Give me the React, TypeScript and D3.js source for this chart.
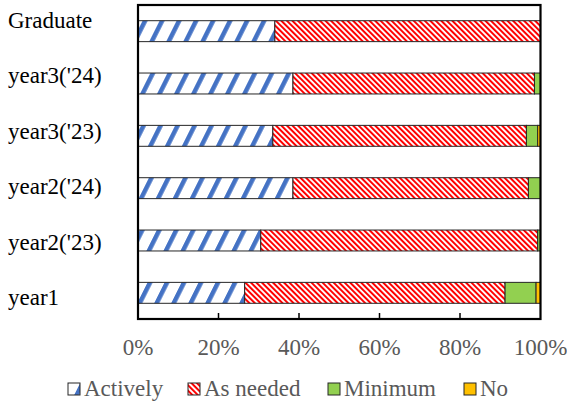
import React from "react";
import * as d3 from "d3";

const categories = ["Graduate", "year3('24)", "year3('23)", "year2('24)", "year2('23)", "year1"];
const seriesNames = ["Actively", "As needed", "Minimum", "No"];
const actively = [34, 38.5, 33.5, 38.5, 30.5, 26.5];
const asNeeded = [66, 60, 63, 58.5, 68.8, 64.7];
const minimum = [0, 1.5, 2.8, 3, 0.7, 7.7];
const no = [0, 0, 0.7, 0, 0, 1.1];
const xTicks = [0, 20, 40, 60, 80, 100];

const W = 567;
const H = 405;
const plot = { left: 138, right: 540.5, top: 5, bottom: 319 };
const fills = ["url(#pActive)", "url(#pNeed)", "#92D050", "#FFC000"];
const SERIF = "serif";

export default function App() {
  const x = d3.scaleLinear().domain([0, 100]).range([plot.left, plot.right]);
  const y = d3
    .scaleBand()
    .domain(categories)
    .range([plot.top, plot.bottom])
    .paddingInner(0.6)
    .paddingOuter(0.3);
  const labelY = d3.scalePoint().domain(categories).range([20, 297]);

  const rows = categories.map((c, i) => ({
    cat: c,
    Actively: actively[i],
    "As needed": asNeeded[i],
    Minimum: minimum[i],
    No: no[i],
  }));
  const stacked = d3.stack().keys(seriesNames)(rows as any);

  const legendX = [68, 188, 328, 464];

  return (
    <svg
      width={W}
      height={H}
      style={{ position: "absolute", left: 0, top: 0, background: "#fff" }}
    >
      <defs>
        <pattern
          id="pActive"
          patternUnits="userSpaceOnUse"
          width={15.2}
          height={10}
          patternTransform="rotate(26.6)"
        >
          <rect width={15.2} height={10} fill="#fff" />
          <rect width={4.5} height={10} fill="#4472C4" />
        </pattern>
        <pattern
          id="pNeed"
          patternUnits="userSpaceOnUse"
          width={3.9}
          height={10}
          patternTransform="rotate(-45)"
        >
          <rect width={3.9} height={10} fill="#fff" />
          <rect width={2} height={10} fill="#FF0000" />
        </pattern>
      </defs>

      {stacked.map((s, si) => (
        <g key={s.key}>
          {s.map((d, i) =>
            d[1] - d[0] > 0 ? (
              <rect
                key={i}
                x={x(d[0])}
                y={y(categories[i])}
                width={x(d[1]) - x(d[0])}
                height={y.bandwidth()}
                fill={fills[si]}
                stroke="#262626"
                strokeWidth={1}
              />
            ) : null
          )}
        </g>
      ))}

      {/* plot frame */}
      <rect
        x={plot.left}
        y={plot.top}
        width={plot.right - plot.left}
        height={plot.bottom - plot.top}
        fill="none"
        stroke="#000"
        strokeWidth={2.2}
      />

      {/* x ticks and labels */}
      {xTicks.map((t) => (
        <g key={t}>
          {t > 0 && t < 100 ? (
            <line x1={x(t)} x2={x(t)} y1={plot.bottom} y2={plot.bottom - 6} stroke="#000" strokeWidth={1.5} />
          ) : null}
          <text x={x(t)} y={355} textAnchor="middle" fill="#595959" style={{ fontFamily: SERIF, fontSize: 23 }}>
            {t + "%"}
          </text>
        </g>
      ))}

      {/* category labels */}
      {categories.map((c) => (
        <text key={c} x={8} y={(labelY(c) as number) + 8} fill="#000" style={{ fontFamily: SERIF, fontSize: 23 }}>
          {c}
        </text>
      ))}

      {/* legend */}
      {seriesNames.map((n, i) => (
        <g key={n}>
          <rect
            x={legendX[i]}
            y={383}
            width={12}
            height={12}
            fill={fills[i]}
            stroke="#262626"
            strokeWidth={1}
          />
          <text x={legendX[i] + 16} y={396} fill="#595959" style={{ fontFamily: SERIF, fontSize: 23 }}>
            {n}
          </text>
        </g>
      ))}
    </svg>
  );
}
